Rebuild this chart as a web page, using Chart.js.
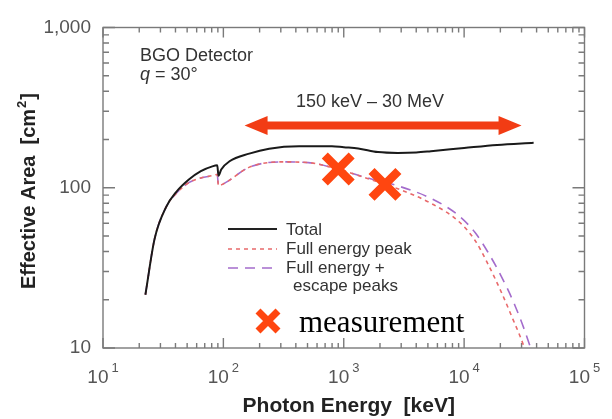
<!DOCTYPE html>
<html>
<head>
<meta charset="utf-8">
<script src="https://cdn.jsdelivr.net/npm/chart.js@4.4.1/dist/chart.umd.min.js"></script>
<style>
  html, body { margin: 0; padding: 0; background: #fff; }
  canvas { display: block; }
</style>
</head>
<body>
<canvas id="effArea" width="612" height="419"></canvas>
<script>
// ---- data (keV, cm^2) ----
const totalEnergy = [22.5, 26.8, 33.5, 40.5, 52, 65, 81, 89, 91, 96, 112.5, 164, 240, 426, 798, 1000, 1318, 1925, 2811, 4000, 5295, 10000, 18800, 37800];
const totalArea   = [21.5, 47.8, 76, 94, 113, 127, 136, 138, 119, 130, 146.4, 163.3, 175.4, 181.6, 181.6, 179, 176, 167, 165, 166, 169, 177, 185, 191];

const escapeEnergy = [22.5, 26.8, 33.5, 40.5, 52, 65, 81, 89, 91, 105, 163, 307, 509, 793, 1088, 1695, 2811, 5330, 8910, 12330, 15780, 20210, 26380, 35090, 40800];
const escapeArea   = [21.5, 47.8, 76, 92, 108, 115, 119, 121, 103, 108, 134, 145, 143.5, 134, 125, 113.5, 102.8, 85.7, 67.5, 52.5, 39.6, 28.3, 18.5, 10.4, 7.1];

const peakEnergy = [22.5, 26.8, 33.5, 40.5, 52, 65, 81, 89, 91, 105, 163, 307, 509, 793, 1088, 1695, 2811, 5330, 8910, 12330, 15780, 20210, 25350, 31280, 36400];
const peakArea   = [21.5, 47.8, 76, 92, 108, 115, 119, 121, 103, 108, 134, 145, 143.5, 134, 125, 112, 98.6, 79.8, 62.1, 46.9, 33.4, 22.6, 15.2, 10.3, 7.1];

const measEnergy = [900, 2200];
const measArea   = [131, 105];

const rangeEnergy = [150, 30000];   // arrow "150 keV - 30 MeV"
const rangeLevel  = 245;

const energyTicks = [10, 100, 1000, 10000, 100000];
const energyExps  = ['1', '2', '3', '4', '5'];
const areaTicks   = [10, 100, 1000];
const areaLabels  = ['10', '100', '1,000'];

const legendNames = ['Total', 'Full energy peak', 'Full energy +', 'escape peaks'];

const SANS = '"Liberation Sans", Arial, sans-serif';
const SERIF = '"Liberation Serif", "Times New Roman", serif';
const CROSS = '#ff4610';

function pts(xs, ys) {
    return xs.map((x, i) => ({ x: x, y: ys[i] }))
}

// frame, inner ticks, labels, legend, arrow
const decor = {
    id: 'decor',
    beforeDatasetsDraw(chart) {
        const ctx = chart.ctx
        const a = chart.chartArea
        const xs = chart.scales.x, ys = chart.scales.y
        ctx.save()
        ctx.strokeStyle = '#7a7a7a'
        ctx.lineWidth = 1.4
        ctx.strokeRect(a.left, a.top, a.right - a.left, a.bottom - a.top)
        ctx.beginPath()
        // x ticks (bottom + top)
        for (let d = 1; d <= 5; d++) {
            for (let m = 1; m <= 9; m++) {
                const v = Math.pow(10, d) * m
                if (v > 100000) break
                const px = xs.getPixelForValue(v)
                const len = m === 1 ? 10 : 5
                ctx.moveTo(px, a.bottom); ctx.lineTo(px, a.bottom - len)
                ctx.moveTo(px, a.top); ctx.lineTo(px, a.top + len)
            }
        }
        // y ticks (left + right)
        for (let d = 1; d <= 3; d++) {
            for (let m = 1; m <= 9; m++) {
                const v = Math.pow(10, d) * m
                if (v > 1000) break
                const py = ys.getPixelForValue(v)
                const len = m === 1 ? 12 : 6
                ctx.moveTo(a.left, py); ctx.lineTo(a.left + len, py)
                ctx.moveTo(a.right, py); ctx.lineTo(a.right - len, py)
            }
        }
        ctx.stroke()
        ctx.restore()
    },
    afterDraw(chart) {
        const ctx = chart.ctx
        const a = chart.chartArea
        const xs = chart.scales.x, ys = chart.scales.y
        ctx.save()

        // tick labels
        ctx.fillStyle = '#555'
        ctx.textBaseline = 'alphabetic'
        energyTicks.forEach((v, i) => {
            const px = xs.getPixelForValue(v)
            ctx.font = '19px ' + SANS
            const w1 = ctx.measureText('10').width
            ctx.font = '13px ' + SANS
            const w2 = ctx.measureText(energyExps[i]).width
            const x0 = px - (w1 + 3 + w2) / 2
            ctx.textAlign = 'left'
            ctx.font = '19px ' + SANS
            ctx.fillText('10', x0, 383)
            ctx.font = '13px ' + SANS
            ctx.fillText(energyExps[i], x0 + w1 + 3, 372)
        })
        ctx.font = '19px ' + SANS
        ctx.textAlign = 'right'
        ctx.textBaseline = 'middle'
        areaTicks.forEach((v, i) => {
            ctx.fillText(areaLabels[i], a.left - 12, ys.getPixelForValue(v))
        })

        // axis titles
        ctx.fillStyle = '#222'
        ctx.font = 'bold 21px ' + SANS
        ctx.textAlign = 'center'
        ctx.textBaseline = 'alphabetic'
        ctx.fillText('Photon Energy  [keV]', (a.left + a.right) / 2 + 5, 412)

        ctx.save()
        ctx.translate(35, 192)
        ctx.rotate(-Math.PI / 2)
        const t1 = 'Effective Area  [cm', t2 = '2', t3 = ']'
        ctx.font = 'bold 20px ' + SANS
        const w1 = ctx.measureText(t1).width, w3 = ctx.measureText(t3).width
        ctx.font = 'bold 13px ' + SANS
        const w2 = ctx.measureText(t2).width
        let x0 = -(w1 + w2 + w3) / 2
        ctx.textAlign = 'left'
        ctx.font = 'bold 20px ' + SANS
        ctx.fillText(t1, x0, 0)
        ctx.font = 'bold 13px ' + SANS
        ctx.fillText(t2, x0 + w1 + 1, -9)
        ctx.font = 'bold 20px ' + SANS
        ctx.fillText(t3, x0 + w1 + w2 + 2, 0)
        ctx.restore()

        // detector note
        ctx.fillStyle = '#333'
        ctx.textAlign = 'left'
        ctx.font = '18px ' + SANS
        ctx.fillText('BGO Detector', 140, 61)
        ctx.font = 'italic 18px ' + SANS
        ctx.fillText('q', 140, 80)
        ctx.font = '18px ' + SANS
        ctx.fillText(' = 30\u00b0', 140 + ctx.measureText('q').width, 80)

        // energy range arrow
        const xa = xs.getPixelForValue(rangeEnergy[0])
        const xb = xs.getPixelForValue(rangeEnergy[1])
        const ya = ys.getPixelForValue(rangeLevel)
        const head = 23, hh = 9.5, sh = 4
        ctx.fillStyle = '#f23c14'
        ctx.beginPath()
        ctx.moveTo(xa, ya)
        ctx.lineTo(xa + head, ya - hh)
        ctx.lineTo(xa + head, ya - sh)
        ctx.lineTo(xb - head, ya - sh)
        ctx.lineTo(xb - head, ya - hh)
        ctx.lineTo(xb, ya)
        ctx.lineTo(xb - head, ya + hh)
        ctx.lineTo(xb - head, ya + sh)
        ctx.lineTo(xa + head, ya + sh)
        ctx.lineTo(xa + head, ya + hh)
        ctx.closePath()
        ctx.fill()
        ctx.fillStyle = '#333'
        ctx.textAlign = 'center'
        ctx.font = '18px ' + SANS
        ctx.fillText('150 keV \u2013 30 MeV', (xa + xb) / 2 - 13, 107)

        // legend
        const lx = 228, lw = 49
        const rows = [
            { y: 229, color: '#222', dash: [], width: 2 },
            { y: 249, color: '#e8696b', dash: [4, 4], width: 1.6 },
            { y: 268, color: '#a46ccc', dash: [10, 7], width: 1.6 }
        ]
        rows.forEach(r => {
            ctx.strokeStyle = r.color
            ctx.lineWidth = r.width
            ctx.setLineDash(r.dash)
            ctx.beginPath()
            ctx.moveTo(lx, r.y); ctx.lineTo(lx + lw, r.y)
            ctx.stroke()
        })
        ctx.setLineDash([])
        ctx.fillStyle = '#333'
        ctx.textAlign = 'left'
        ctx.textBaseline = 'alphabetic'
        ctx.font = '17px ' + SANS
        ctx.fillText(legendNames[0], 286, 235)
        ctx.fillText(legendNames[1], 286, 254)
        ctx.fillText(legendNames[2], 286, 273)
        ctx.fillText(legendNames[3], 293, 291)

        // measurement key
        ctx.strokeStyle = CROSS
        ctx.lineWidth = 7
        const cx = 268, cy = 321, cr = 10
        ctx.beginPath()
        ctx.moveTo(cx - cr, cy - cr); ctx.lineTo(cx + cr, cy + cr)
        ctx.moveTo(cx + cr, cy - cr); ctx.lineTo(cx - cr, cy + cr)
        ctx.stroke()
        ctx.fillStyle = '#000'
        ctx.font = '31px ' + SERIF
        ctx.fillText('measurement', 299, 332)

        ctx.restore()
    }
}

new Chart(document.querySelector('#effArea'), {
    type: 'scatter',
    data: {
        datasets: [{
            label: 'measurement',
            data: pts(measEnergy, measArea),
            pointStyle: 'crossRot',
            pointRadius: 19,
            pointBorderWidth: 8.5,
            pointBorderColor: CROSS,
            pointBackgroundColor: CROSS,
            showLine: false
        }, {
            label: 'Total',
            data: pts(totalEnergy, totalArea),
            showLine: true,
            borderColor: '#1a1a1a',
            borderWidth: 2,
            pointRadius: 0,
            cubicInterpolationMode: 'monotone'
        }, {
            label: 'Full energy peak',
            data: pts(peakEnergy, peakArea),
            showLine: true,
            borderColor: '#e8696b',
            borderWidth: 1.6,
            borderDash: [4, 4],
            pointRadius: 0,
            cubicInterpolationMode: 'monotone'
        }, {
            label: 'Full energy + escape peaks',
            data: pts(escapeEnergy, escapeArea),
            showLine: true,
            borderColor: '#a46ccc',
            borderWidth: 1.6,
            borderDash: [10, 7],
            pointRadius: 0,
            cubicInterpolationMode: 'monotone'
        }]
    },
    options: {
        responsive: false,
        animation: false,
        devicePixelRatio: 1,
        layout: { padding: { left: 103, right: 25, top: 20, bottom: 71 } },
        scales: {
            x: { type: 'logarithmic', min: 10, max: 100000, display: false },
            y: { type: 'logarithmic', min: 10, max: 1000, display: false }
        },
        plugins: {
            legend: { display: false },
            tooltip: { enabled: false }
        }
    },
    plugins: [decor]
});
</script>
</body>
</html>
